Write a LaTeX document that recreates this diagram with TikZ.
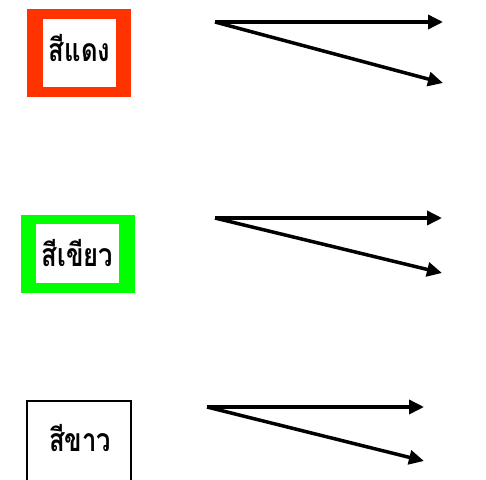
\documentclass[tikz,border=0pt]{standalone}
\usepackage{fontspec}
\newfontfamily\thaifont[Script=Thai]{Loma}
\usetikzlibrary{arrows.meta}
\newcommand{\thailabel}[1]{\scalebox{0.8}[1]{#1}}
\begin{document}
\begin{tikzpicture}[x=1pt,y=-1pt,
  label/.style={font=\thaifont\bfseries\fontsize{32}{36}\selectfont, inner sep=0pt},
  flow/.style={line width=3.5pt, -{Triangle[length=15pt,width=14pt]}}]
\useasboundingbox (0,0) rectangle (486,479);
% red frame
\fill[fill={rgb,255:red,255;green,51;blue,0}] (27,9) rectangle (131,97);
\fill[white] (43,19) rectangle (116,87);
\node[label] (red) at (79.5,48) {\thailabel{สีแดง}};
% green frame
\fill[fill={rgb,255:red,0;green,255;blue,0}] (21,215) rectangle (135,293);
\fill[white] (36,224) rectangle (119,283);
\node[label] (green) at (77.5,253) {\thailabel{สีเขียว}};
% white box
\draw[line width=1.5pt] (27,401) rectangle (131,481);
\node[label] (white) at (80,438) {\thailabel{สีขาว}};
% arrow pairs
\coordinate (a1) at (215,22);
\coordinate (a1h) at (443,22);
\coordinate (a1d) at (443,83);
\coordinate (a2) at (215,218);
\coordinate (a2h) at (442,218);
\coordinate (a2d) at (442,273);
\coordinate (a3) at (207,407);
\coordinate (a3h) at (424,407);
\coordinate (a3d) at (424,461);
\draw[flow] (a1) -- (a1h);
\draw[flow] (a1) -- (a1d);
\draw[flow] (a2) -- (a2h);
\draw[flow] (a2) -- (a2d);
\draw[flow] (a3) -- (a3h);
\draw[flow] (a3) -- (a3d);
\end{tikzpicture}
\end{document}
